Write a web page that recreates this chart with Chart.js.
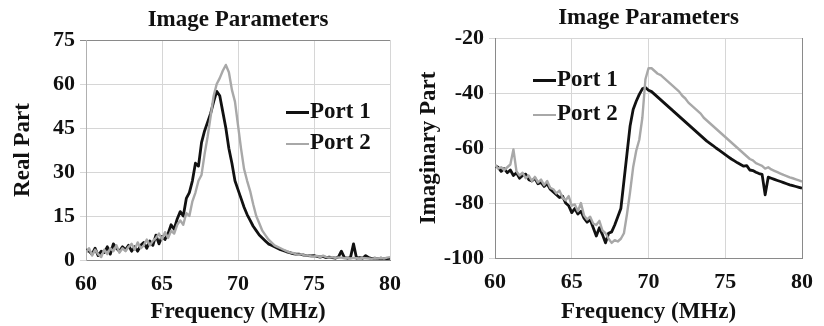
<!DOCTYPE html>
<html>
<head>
<meta charset="utf-8">
<script src="https://cdn.jsdelivr.net/npm/chart.js@4.4.1/dist/chart.umd.min.js"></script>
<style>
  body { margin: 0; background: #fff; }
  #wrap { position: relative; width: 824px; height: 326px; overflow: hidden; background: #fff; }
  .panel { position: absolute; top: 0; width: 412px; height: 326px; }
  .item { position: absolute; white-space: nowrap; height: 26px; line-height: 26px;
          font: bold 23px "Liberation Serif", "Times New Roman", serif; color: #111; }
  .sw { display: inline-block; width: 23px; height: 0; vertical-align: middle; margin-right: 1px; }
  .sw.p1 { border-top: 3px solid #111; }
  .sw.p2 { border-top: 2px solid #a8a8a8; }
</style>
</head>
<body>
<div id="wrap">
  <div class="panel" style="left:0">
    <canvas id="realChart" width="412" height="326"></canvas>
    <div class="item" style="left:286px; top:98px"><span class="sw p1"></span>Port 1</div>
    <div class="item" style="left:286px; top:129px"><span class="sw p2"></span>Port 2</div>
  </div>
  <div class="panel" style="left:412px">
    <canvas id="imagChart" width="412" height="326"></canvas>
    <div class="item" style="left:121px; top:66px"><span class="sw p1"></span>Port 1</div>
    <div class="item" style="left:121px; top:100px"><span class="sw p2"></span>Port 2</div>
  </div>
</div>
<script>
// frequency in MHz
const freq = [
  60.0, 60.2, 60.4, 60.6, 60.8, 61.0, 61.2, 61.4, 61.6, 61.8,
  62.0, 62.2, 62.4, 62.6, 62.8, 63.0, 63.2, 63.4, 63.6, 63.8,
  64.0, 64.2, 64.4, 64.6, 64.8, 65.0, 65.2, 65.4, 65.6, 65.8,
  66.0, 66.2, 66.4, 66.6, 66.8, 67.0, 67.2, 67.4, 67.6, 67.8,
  68.0, 68.2, 68.4, 68.6, 68.8, 69.0, 69.2, 69.4, 69.6, 69.8,
  70.0, 70.2, 70.4, 70.6, 70.8, 71.0, 71.2, 71.4, 71.6, 71.8,
  72.0, 72.2, 72.4, 72.6, 72.8, 73.0, 73.2, 73.4, 73.6, 73.8,
  74.0, 74.2, 74.4, 74.6, 74.8, 75.0, 75.2, 75.4, 75.6, 75.8,
  76.0, 76.2, 76.4, 76.6, 76.8, 77.0, 77.2, 77.4, 77.6, 77.8,
  78.0, 78.2, 78.4, 78.6, 78.8, 79.0, 79.2, 79.4, 79.6, 79.8,
  80.0
];

const realPort1 = [
  3.5, 3.0, 2.0, 4.0, 1.5, 3.0, 2.5, 4.5, 2.0, 5.5,
  4.0, 3.0, 4.5, 3.5, 5.0, 3.0, 4.5, 3.0, 5.0, 6.0,
  4.0, 6.5, 5.0, 8.5, 5.5, 8.0, 7.0, 9.0, 12.0, 10.5,
  14.0, 16.5, 15.0, 21.0, 23.0, 27.0, 33.0, 32.0, 40.0, 44.0,
  47.0, 50.0, 54.0, 57.5, 56.0, 50.5, 45.0, 38.0, 33.0, 27.0,
  24.0, 21.0, 18.0, 15.5, 13.5, 11.5, 10.0, 8.5, 7.5, 6.5,
  5.5, 5.0, 4.5, 4.0, 3.5, 3.2, 2.8, 2.5, 2.2, 2.0,
  2.0, 1.8, 1.6, 1.5, 1.4, 1.5, 1.2, 1.0, 1.2, 0.8,
  1.0, 0.8, 0.6, 1.0, 3.0, 0.8, 0.6, 0.8, 5.5, 0.6,
  0.8, 0.6, 1.5, 0.8, 0.5, 0.6, 0.4, 0.6, 0.4, 0.5,
  0.6
];

const realPort2 = [
  2.5, 4.0, 1.5, 3.5, 2.0, 1.0, 3.5, 2.0, 4.0, 3.0,
  5.0, 2.5, 4.0, 3.0, 4.5, 5.5, 3.5, 6.0, 4.0, 5.0,
  7.0, 5.0, 6.5, 7.5, 9.0, 7.0, 9.5, 7.5, 10.0, 9.0,
  12.0, 13.5, 12.0, 16.0, 15.0, 20.0, 23.0, 27.0, 29.0, 36.0,
  42.0, 49.0, 56.0, 60.0, 62.0, 64.5, 66.5, 64.0, 58.0, 54.0,
  46.0, 38.0, 31.0, 27.0, 23.5, 19.0, 15.0, 12.5, 10.0, 8.5,
  7.0, 6.0, 5.0, 4.5, 4.0, 3.5, 3.0, 2.6, 2.4, 2.0,
  1.8, 2.0, 1.5, 1.6, 1.3, 1.2, 1.4, 1.0, 1.5, 1.0,
  0.8, 1.0, 0.7, 0.9, 0.8, 0.6, 0.8, 0.5, 0.7, 0.6,
  0.5, 0.7, 0.6, 0.5, 0.4, 0.6, 0.5, 0.7, 0.5, 0.8,
  1.0
];

const imagPort1 = [
  -66.5, -67.0, -68.5, -67.5, -69.0, -68.0, -70.0, -69.0, -71.0, -70.0,
  -69.5, -71.5, -72.0, -71.0, -73.0, -72.5, -74.0, -73.0, -75.0, -76.0,
  -77.0, -78.0, -77.5, -80.0, -81.0, -83.5, -82.0, -84.0, -83.0, -85.5,
  -87.0, -86.0, -89.0, -92.0, -89.0, -91.5, -94.5, -91.0, -90.5, -88.0,
  -85.0, -82.0, -72.0, -62.0, -52.0, -46.0, -43.0, -40.5, -38.5, -38.0,
  -39.0, -39.5, -40.5, -41.5, -42.5, -43.5, -44.5, -45.5, -46.5, -47.5,
  -48.5, -49.5, -50.5, -51.5, -52.5, -53.5, -54.5, -55.5, -56.5, -57.5,
  -58.3, -59.1, -60.0, -60.8, -61.6, -62.4, -63.2, -64.0, -64.7, -65.4,
  -66.0, -66.6, -66.4, -68.0, -68.2, -68.8, -69.3, -69.6, -77.0, -70.6,
  -71.0, -71.4, -71.8, -72.2, -72.6, -73.0, -73.4, -73.7, -74.0, -74.3,
  -74.6
];

const imagPort2 = [
  -66.0, -67.5, -67.0, -68.0, -67.0, -66.0, -60.5, -68.5, -70.0, -69.0,
  -71.0, -70.0, -72.0, -70.5, -72.5, -71.5, -73.5, -72.0, -74.5, -75.0,
  -76.5, -75.5, -78.0, -79.0, -77.5, -81.0, -80.5, -83.0, -80.0, -84.5,
  -86.0, -85.0, -87.5, -88.0, -86.5, -90.0, -91.0, -93.0, -94.5, -93.5,
  -94.0, -93.0, -91.0, -84.0, -76.0, -67.0, -61.0, -57.0, -49.0, -35.0,
  -31.0, -31.0, -32.0, -33.0, -33.5, -34.5, -35.5, -36.5, -37.5, -38.5,
  -39.5, -41.0, -42.0, -43.5, -44.5, -45.5, -46.5, -47.5, -49.0, -50.0,
  -51.0, -52.0, -53.0, -54.0, -55.0, -56.0, -57.0, -58.0, -59.0, -60.0,
  -61.0, -62.0, -63.0, -64.0, -64.5, -65.5, -66.0, -66.5, -67.5, -67.0,
  -67.8, -68.3, -68.8, -69.3, -69.8, -70.2, -70.7, -71.0, -71.4, -71.8,
  -72.2
];

const freqAxis = [60, 80, 5];       // min, max, step
const realAxis = [0, 75, 15];
const imagAxis = [-100, -20, 20];

const serif = '"Liberation Serif", "Times New Roman", serif';
const ink = '#111';
const gridLight = '#d6d6d6';
const gridDark = '#8a8a8a';

function buildChart(id, p1, p2, yAxis, yTitle, box) {
  const pts = vals => freq.map((f, i) => ({ x: f, y: vals[i] }));
  return new Chart(document.getElementById(id), {
    type: 'line',
    data: {
      datasets: [
        { label: 'Port 2', data: pts(p2), borderColor: '#a8a8a8', borderWidth: 2.4 },
        { label: 'Port 1', data: pts(p1), borderColor: ink, borderWidth: 2.8 }
      ]
    },
    options: {
      responsive: false,
      animation: false,
      devicePixelRatio: 1,
      layout: { padding: { left: 0, right: box.padRight, top: 0, bottom: 0 } },
      elements: {
        point: { radius: 0 },
        line: { tension: 0, borderJoinStyle: 'round', fill: false }
      },
      plugins: {
        legend: { display: false },
        tooltip: { enabled: false },
        title: {
          display: true,
          text: 'Image Parameters',
          fullSize: false,
          color: ink,
          font: { family: serif, size: 23, weight: 'bold' },
          padding: { top: box.titleTop, bottom: box.titleBottom }
        }
      },
      scales: {
        x: {
          type: 'linear',
          min: freqAxis[0],
          max: freqAxis[1],
          ticks: { stepSize: freqAxis[2], color: ink, padding: 11, maxRotation: 0,
                   font: { family: serif, size: 22, weight: 'bold' } },
          grid: {
            drawTicks: false,
            color: c => (c.tick && c.tick.value === freqAxis[1] && box.darkRight) ? gridDark : gridLight
          },
          border: { color: gridDark, width: 1 },
          title: { display: true, text: 'Frequency (MHz)', color: ink, padding: 0,
                   font: { family: serif, size: 23, weight: 'bold' } },
          afterFit: s => { s.height = box.xHeight; }
        },
        y: {
          min: yAxis[0],
          max: yAxis[1],
          ticks: { stepSize: yAxis[2], color: ink, padding: 5,
                   font: { family: serif, size: 22, weight: 'bold' } },
          grid: {
            tickLength: 6,
            color: c => (c.tick && c.tick.value === yAxis[1] && box.darkTop) ? gridDark : gridLight
          },
          border: { color: box.yBorder, width: 1 },
          title: { display: true, text: yTitle, color: ink, padding: { top: box.yTitlePad, bottom: 0 },
                   font: { family: serif, size: 23, weight: 'bold' } },
          afterFit: s => { s.width = box.yWidth; }
        }
      }
    }
  });
}

buildChart('realChart', realPort1, realPort2, realAxis, 'Real Part', {
  yWidth: 86, xHeight: 66, padRight: 12, titleTop: 6.2, titleBottom: 6.2,
  yTitlePad: 9, darkTop: true, darkRight: false, yBorder: '#b0b0b0'
});

buildChart('imagChart', imagPort1, imagPort2, imagAxis, 'Imaginary Part', {
  yWidth: 83, xHeight: 68, padRight: 14, titleTop: 4.2, titleBottom: 6.2,
  yTitlePad: 3, darkTop: false, darkRight: true, yBorder: gridDark
});
</script>
</body>
</html>
